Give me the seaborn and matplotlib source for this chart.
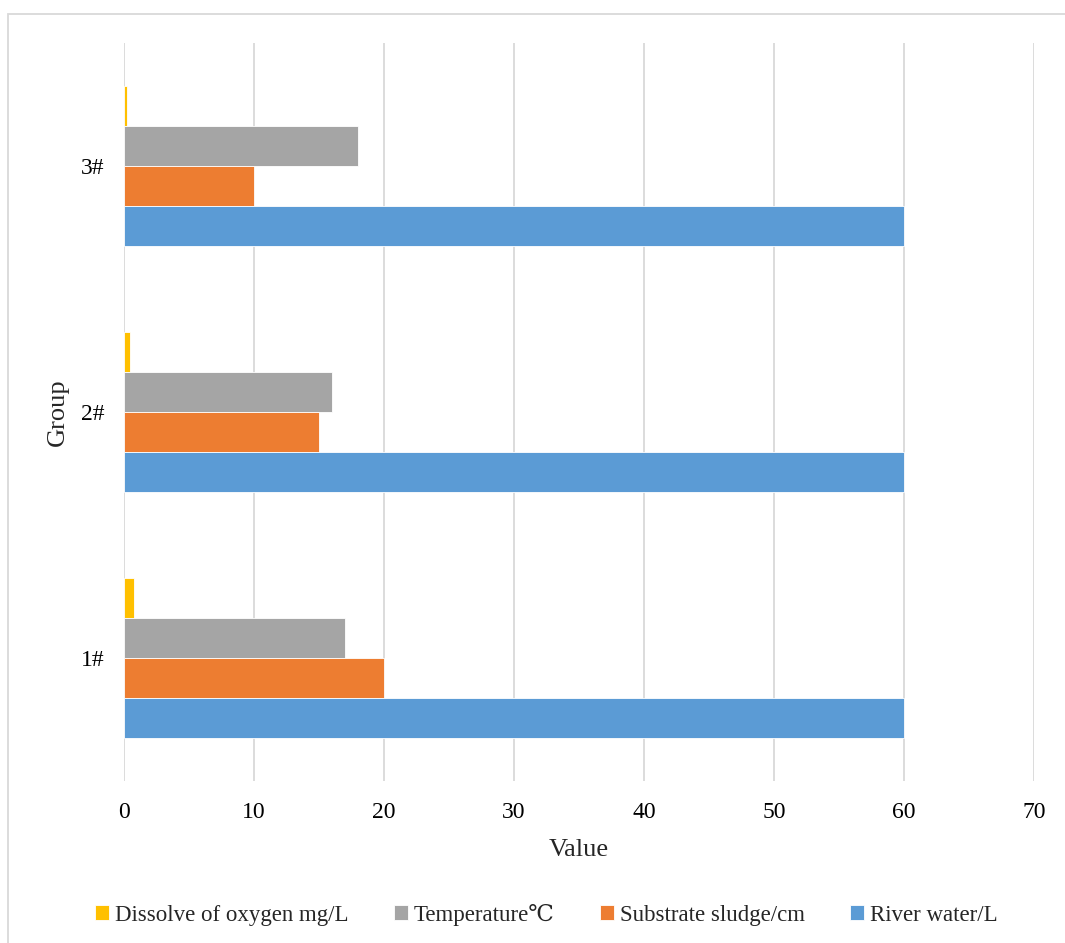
import matplotlib
matplotlib.use("Agg")
import matplotlib.pyplot as plt
import seaborn as sns
import pandas as pd
from matplotlib.patches import Rectangle

# Data
groups = ["3#", "2#", "1#"]
dissolved_oxygen = [0.2, 0.5, 0.8]
temperature = [18, 16, 17]
substrate_sludge = [10, 15, 20]
river_water = [60, 60, 60]

series_names = ["Dissolve of oxygen mg/L", "Temperature\u2103", "Substrate sludge/cm", "River water/L"]
series_values = [dissolved_oxygen, temperature, substrate_sludge, river_water]
series_colors = ["#FFC000", "#A5A5A5", "#ED7D31", "#5B9BD5"]

rows = []
for name, vals in zip(series_names, series_values):
    for g, v in zip(groups, vals):
        rows.append({"Group": g, "Series": name, "Value": v})
df = pd.DataFrame(rows)

sns.set_theme(style="white")
plt.rcParams["font.family"] = ["Liberation Serif", "DejaVu Serif", "Noto Sans CJK SC"]

fig = plt.figure(figsize=(10.65, 9.43), dpi=100)
ax = fig.add_axes([0.1164, 0.1718, 0.8545, 0.7826])

sns.barplot(
    data=df, y="Group", x="Value", hue="Series", orient="h",
    order=groups, hue_order=series_names,
    palette=dict(zip(series_names, series_colors)),
    width=0.65, gap=0, edgecolor="white", linewidth=0.6,
    saturation=1, errorbar=None, ax=ax,
)

ax.set_xlim(0, 70)
ax.set_ylim(2.5, -0.5)
ax.set_xticks(range(0, 71, 10))
ax.grid(axis="x", color="#D9D9D9", linewidth=1.3)
ax.grid(axis="y", visible=False)
ax.set_axisbelow(True)
for s in ax.spines.values():
    s.set_visible(False)
ax.tick_params(axis="both", length=0, labelsize=17, colors="black")
ax.tick_params(axis="x", pad=15)
ax.tick_params(axis="y", pad=14)
ax.set_xlabel("Value", fontsize=19, labelpad=12)
ax.set_ylabel("Group", fontsize=19, labelpad=9)

handles, labels = ax.get_legend_handles_labels()
ax.get_legend().remove()
fig.legend(
    handles, labels, loc="center", bbox_to_anchor=(0.513, 0.030), ncol=4,
    frameon=False, fontsize=16.5, handlelength=0.6, handleheight=0.6,
    handletextpad=0.25, columnspacing=2.0,
)

# Chart area border
fig.patches.append(Rectangle((8 / 1065, -0.1), 1.2, 1.1 - 14 / 943,
                             transform=fig.transFigure, fill=False,
                             edgecolor="#D9D9D9", linewidth=1.3))

fig.savefig("out.png", dpi=100)
